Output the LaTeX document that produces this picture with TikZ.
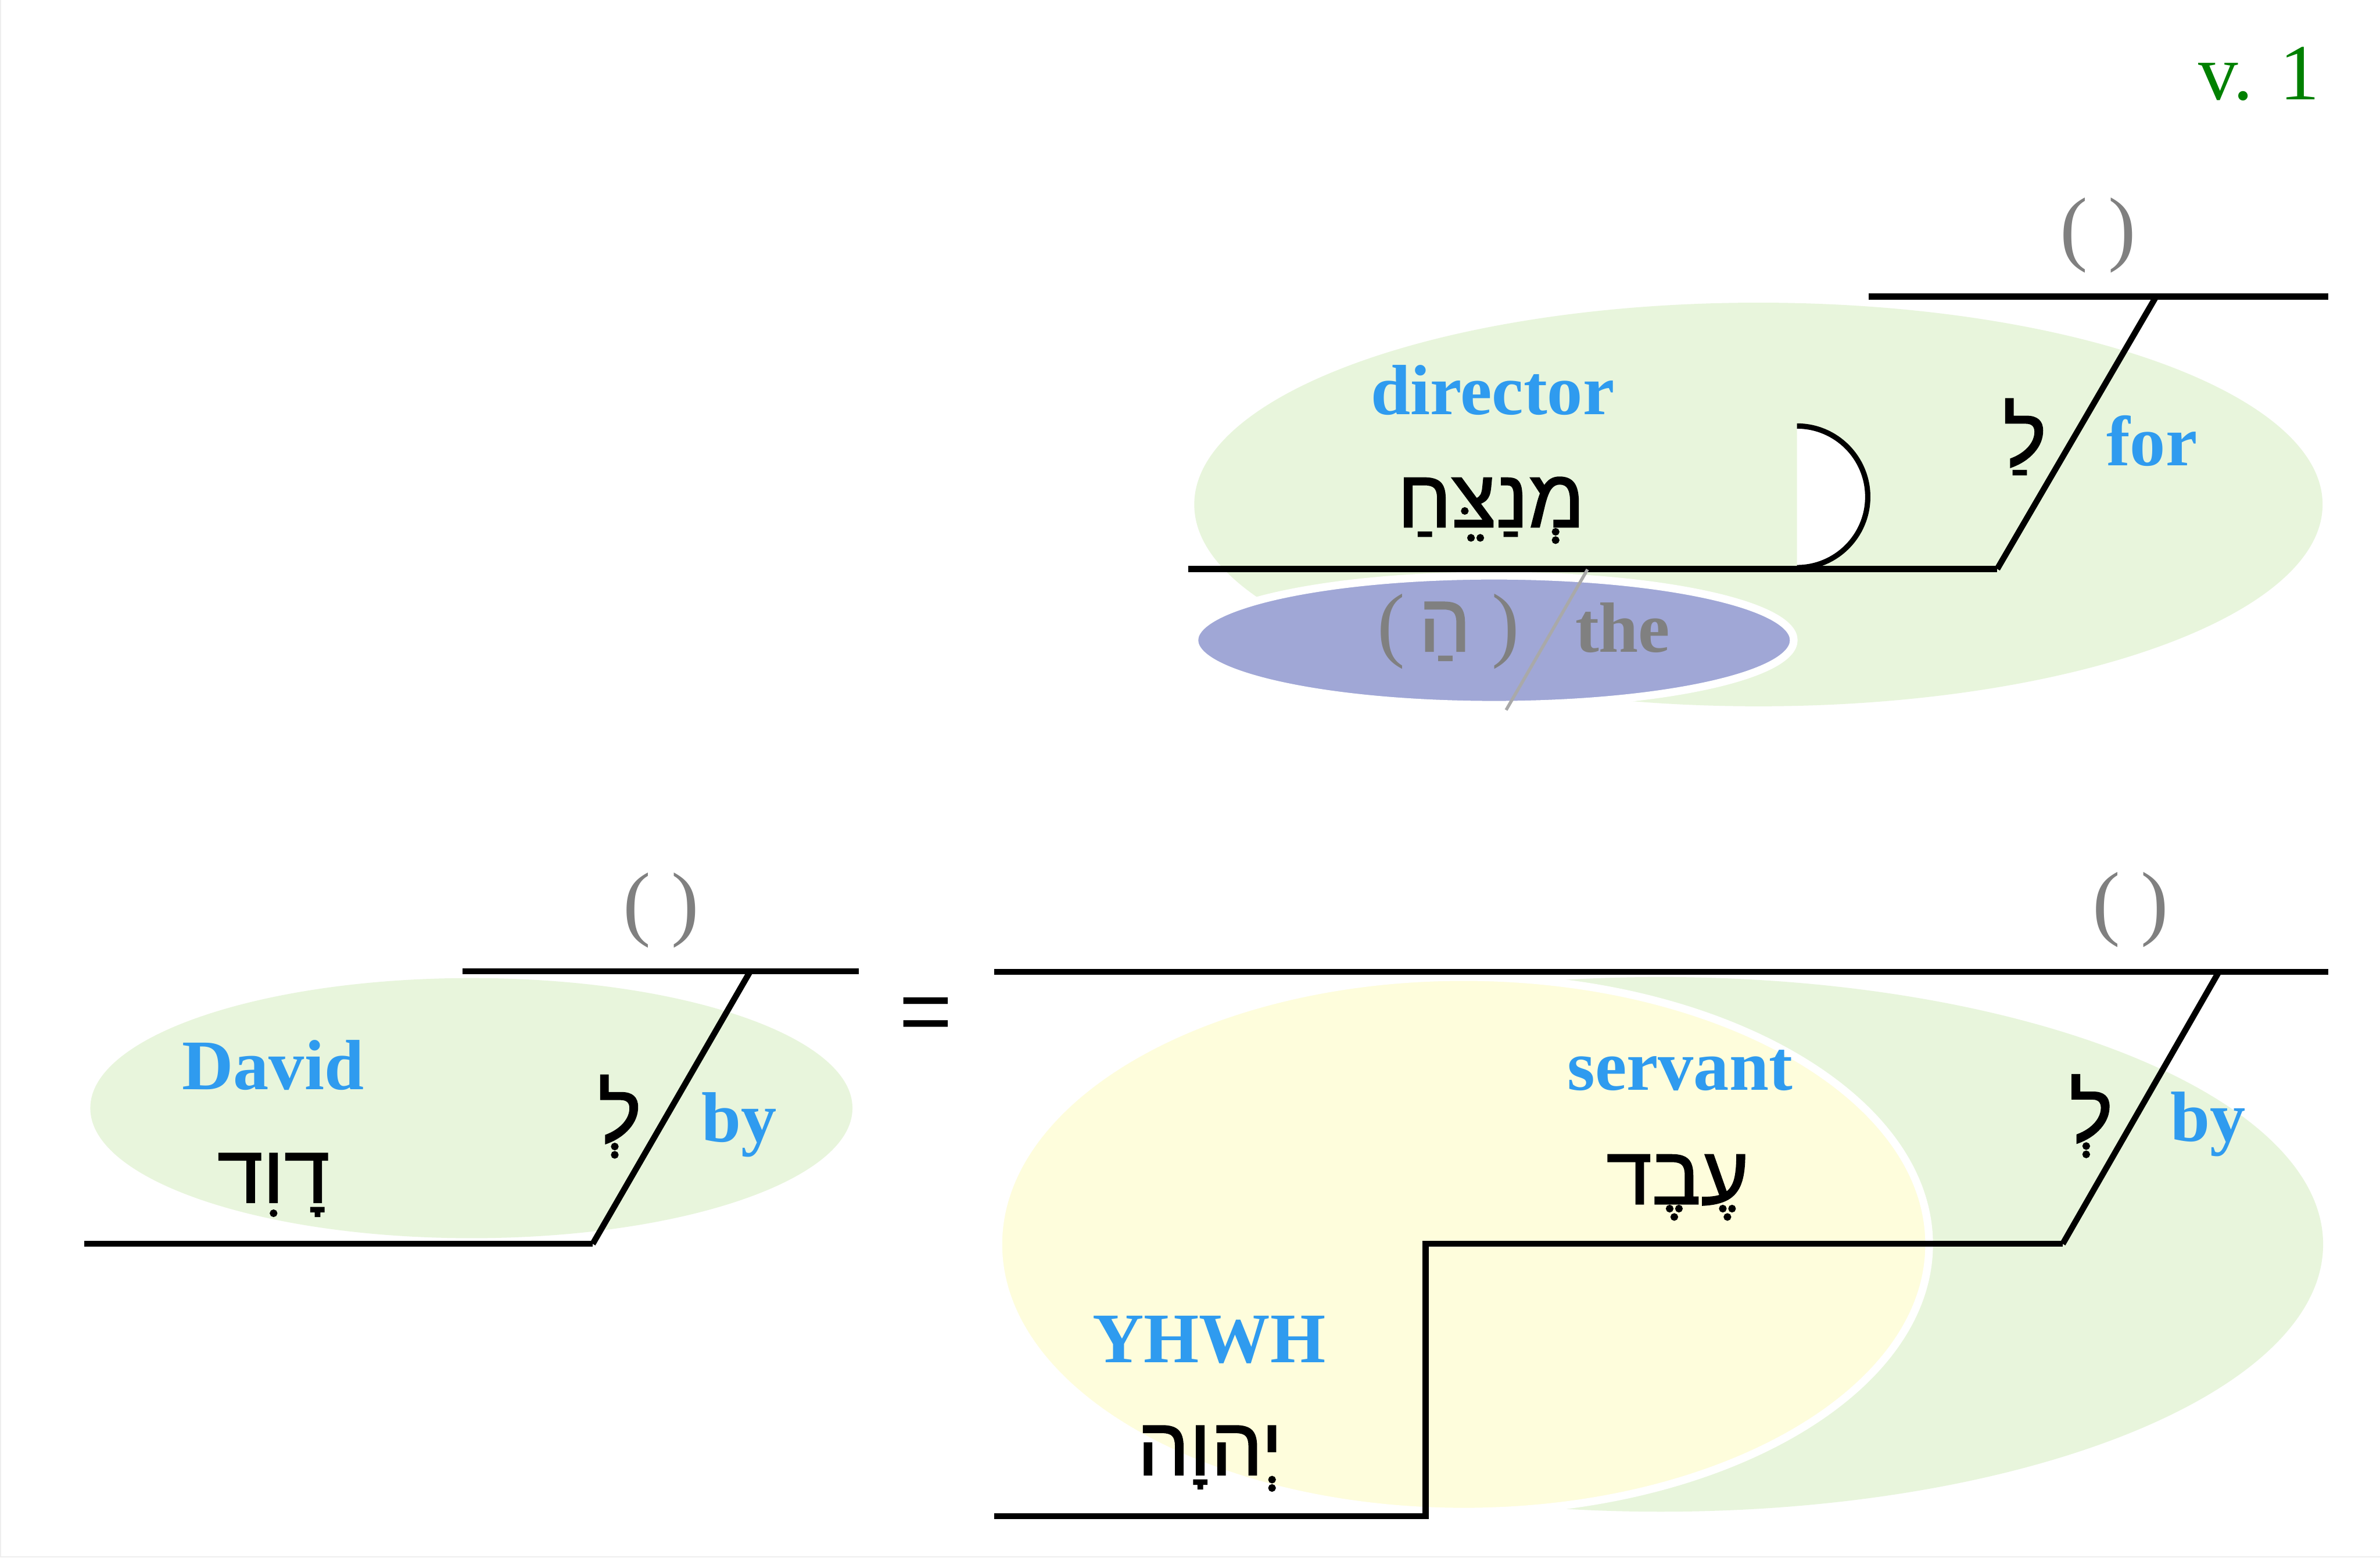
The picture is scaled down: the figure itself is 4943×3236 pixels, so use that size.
\documentclass[tikz,border=0pt]{standalone}
\usepackage{fontspec}
\setmainfont{Liberation Serif}
\newfontfamily\heb[Script=Hebrew,UprightFeatures={FakeBold=1.5}]{Liberation Sans}
\newfontfamily\eqfont{Liberation Sans}
\TeXXeTstate=1
\definecolor{lgreen}{HTML}{E8F5DC}
\definecolor{lblue}{HTML}{2F9BEF}
\definecolor{pblue}{HTML}{A0A7D6}
\definecolor{lyellow}{HTML}{FEFDDC}
\definecolor{pgray}{HTML}{808080}
\definecolor{sgray}{HTML}{A9A9A9}
\definecolor{vgreen}{HTML}{008000}
\definecolor{edgegray}{HTML}{EEEEEE}
\tikzset{
  lbl/.style={font=\bfseries\fontsize{42}{48}\selectfont, text=lblue, inner sep=0pt, anchor=base},
  hebw/.style={font=\heb\fontsize{48.5}{56}\selectfont, inner sep=0pt, anchor=base},
  paren/.style={font=\fontsize{49}{56}\selectfont, text=pgray, inner sep=0pt, anchor=base},
  ln/.style={line width=0.125cm, line cap=butt},
  wborder/.style={draw=white, line width=0.16cm},
}
\begin{document}
\begin{tikzpicture}[x=0.01cm,y=-0.01cm]
\useasboundingbox (0,0) rectangle (4943,3236);
\fill[white] (0,0) rectangle (4943,3236);
\draw[edgegray, line width=0.03cm] (1,0) -- (1,3234) -- (4943,3234);

% ---------- top clause ----------
\fill[lgreen] (3652,1048) ellipse [x radius=11.71cm, y radius=4.19cm];
\filldraw[fill=pblue, wborder] (3103,1330) ellipse [x radius=6.22cm, y radius=1.34cm];

\coordinate (sc) at (3732,885);
\fill[white] (sc) arc[start angle=90, end angle=-90, radius=1.47cm] -- cycle;
\draw[ln, line width=0.11cm] (sc) arc[start angle=90, end angle=-90, radius=1.47cm];

\coordinate (t1) at (2468,1182);
\coordinate (t2) at (4148,1182);
\coordinate (t3) at (4478,616);
\coordinate (t4) at (3881,616);
\coordinate (t5) at (4836,616);
\draw[ln] (t1) -- (t2);
\draw[ln] (t2) -- (t3);
\draw[ln] (t4) -- (t5);
\coordinate (g1) at (3297,1183);
\coordinate (g2) at (3128,1475);
\draw[sgray, line width=0.065cm] (g1) -- (g2);

\node[lbl] (director) at (3100,861) {director};
\node[hebw] (mnsh) at (3097,1095) {\beginR מְנַצֵּחַ\endR};
\node[paren] (art) at (3008,1353) {(\,{\heb\fontsize{48.5}{56}\selectfont\beginR הַ\endR}\ )};
\node[lbl, text=pgray] (the) at (3370,1355) {the};
\node[hebw] (la) at (4205,967) {\beginR לַ\endR};
\node[lbl] (for) at (4469,967) {for};
\node[paren] (p1) at (4357,530) {( )};
\node[font=\fontsize{47}{54}\selectfont, text=vgreen, inner sep=0pt, anchor=base east] (verse) at (4818,207) {v. 1};

% ---------- lower left ----------
\fill[lgreen] (979,2302) ellipse [x radius=7.91cm, y radius=2.70cm];
\coordinate (a1) at (175,2584);
\coordinate (a2) at (1231,2584);
\coordinate (a3) at (1558,2018);
\coordinate (a4) at (961,2018);
\coordinate (a5) at (1784,2018);
\draw[ln] (a1) -- (a2);
\draw[ln] (a2) -- (a3);
\draw[ln] (a4) -- (a5);
\node[lbl] (david) at (567,2263) {David};
\node[hebw] (dwd) at (568,2498) {\beginR דָוִד\endR};
\node[hebw] (le1) at (1287,2372) {\beginR לְ\endR};
\node[lbl] (by1) at (1535,2372) {by};
\node[paren] (p2) at (1373,1933) {( )};

\node[font=\eqfont\fontsize{54}{60}\selectfont, inner sep=0pt, anchor=base] (eq) at (1923,2166) {=};

% ---------- lower right ----------
\fill[lgreen] (3449,2585) ellipse [x radius=13.75cm, y radius=5.55cm];
\filldraw[fill=lyellow, wborder] (3040,2585) ellipse [x radius=9.66cm, y radius=5.55cm];
\coordinate (b1) at (2065,2019);
\coordinate (b2) at (4835,2019);
\coordinate (b3) at (4607,2021);
\coordinate (b4) at (4284,2584);
\coordinate (b5) at (2961,2584);
\coordinate (b6) at (2961,3150);
\coordinate (b7) at (2065,3150);
\draw[ln] (b1) -- (b2);
\draw[ln] (b3) -- (b4);
\draw[ln] (b4) -- (b5) -- (b6) -- (b7);
\node[lbl] (servant) at (3489,2264) {servant};
\node[hebw] (ebd) at (3484,2501) {\beginR עֶבֶד\endR};
\node[lbl] (yhwh) at (2511,2831) {YHWH};
\node[hebw] (yhwhh) at (2513,3064) {\beginR יְהוָה\endR};
\node[hebw] (le2) at (4343,2371) {\beginR לְ\endR};
\node[lbl] (by2) at (4586,2371) {by};
\node[paren] (p3) at (4425,1931) {( )};
\end{tikzpicture}
\end{document}
